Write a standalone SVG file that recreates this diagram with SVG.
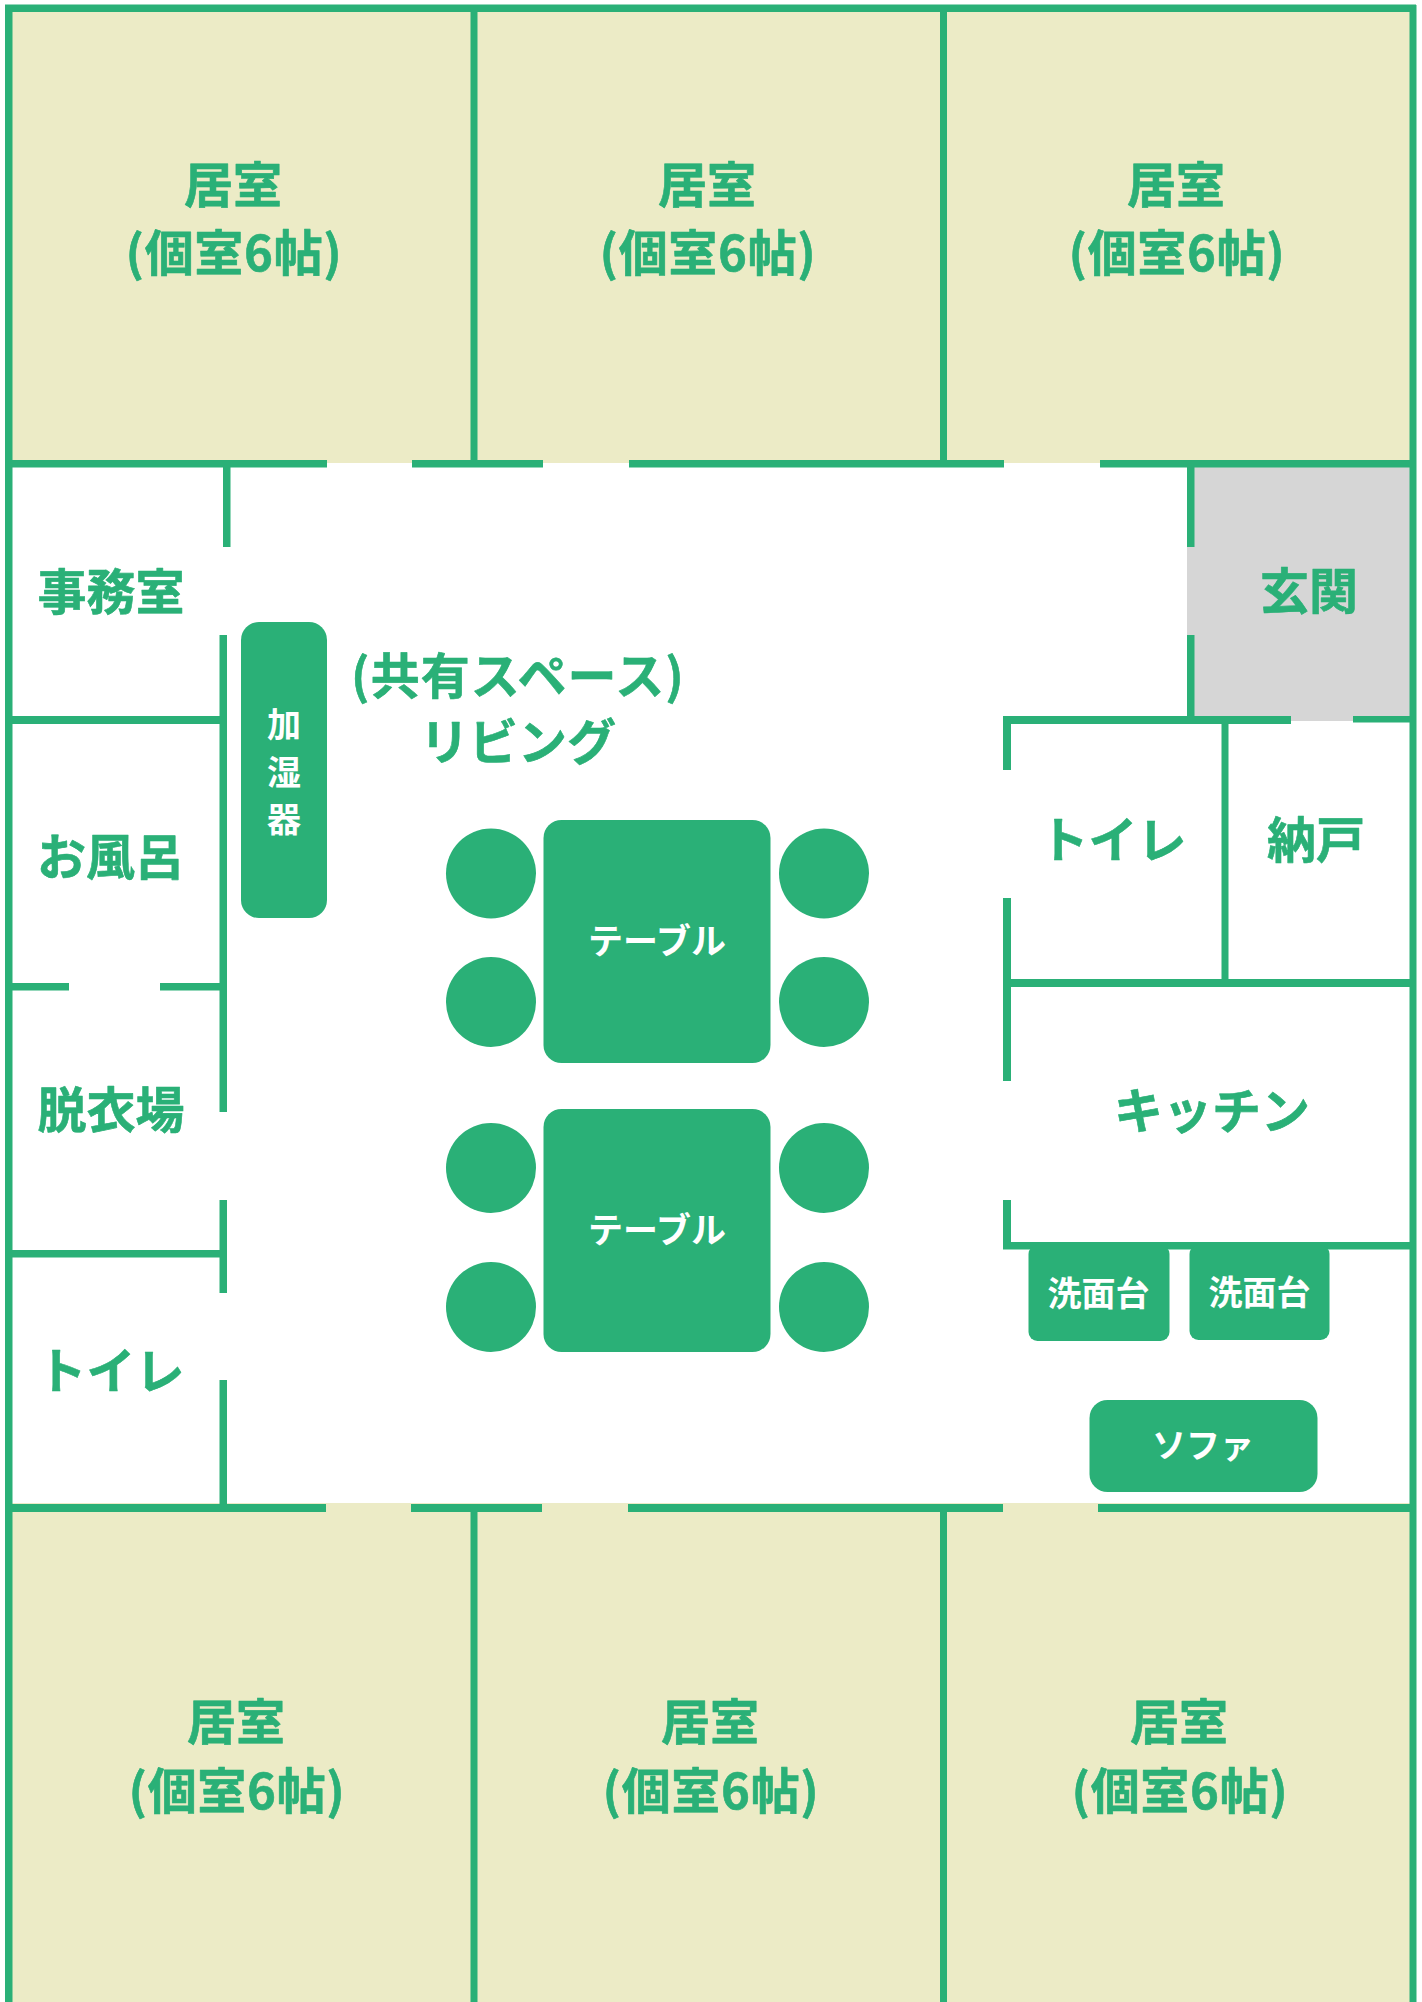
<svg xmlns="http://www.w3.org/2000/svg" width="1422" height="2002" viewBox="0 0 1422 2002">
<style>
.w{fill:#2AB077}
.b{fill:#ECEBC6}
.l{fill:#2AB077;font-family:"Noto Sans CJK JP","Noto Sans",sans-serif;font-weight:700;font-size:49px;text-anchor:middle;dominant-baseline:central;stroke:#2AB077;stroke-width:.6px;stroke-linejoin:round}
.p{letter-spacing:.7px}
.q{letter-spacing:1.1px}
.s{fill:#fff;font-family:"Noto Sans CJK JP","Noto Sans",sans-serif;font-weight:700;font-size:34px;text-anchor:middle;dominant-baseline:central}
.t{font-size:35px}
</style>
<rect width="1422" height="2002" fill="#fff"/>
<g id="floors">
<rect class="b" x="12" y="11" width="1398" height="452"/>
<rect class="b" x="12" y="1503" width="1398" height="499"/>
<rect x="1187" y="466" width="223" height="255" fill="#D6D6D6"/>
</g>
<g id="walls">
<rect class="w" x="5" y="4.500" width="1411" height="7.500"/>
<rect class="w" x="5" y="5" width="7.500" height="1997"/>
<rect class="w" x="1409.500" y="5" width="7" height="1997"/>
<rect class="w" x="470.500" y="5" width="7" height="456"/>
<rect class="w" x="940" y="5" width="7" height="456"/>
<rect class="w" x="5" y="460" width="322" height="7.500"/>
<rect class="w" x="412" y="460" width="131" height="7.500"/>
<rect class="w" x="629" y="460" width="375" height="7.500"/>
<rect class="w" x="1100" y="460" width="316" height="7.500"/>
<rect class="w" x="223" y="467" width="7.500" height="80"/>
<rect class="w" x="219.500" y="635" width="7.500" height="477"/>
<rect class="w" x="219.500" y="1200" width="7.500" height="93"/>
<rect class="w" x="219.500" y="1380" width="7.500" height="124"/>
<rect class="w" x="12" y="716" width="208" height="8"/>
<rect class="w" x="12" y="983" width="57" height="7.500"/>
<rect class="w" x="160" y="983" width="60" height="7.500"/>
<rect class="w" x="12" y="1250" width="208" height="7.500"/>
<rect class="w" x="5" y="1504" width="321" height="8"/>
<rect class="w" x="411" y="1504" width="131" height="8"/>
<rect class="w" x="628" y="1504" width="375" height="8"/>
<rect class="w" x="1098" y="1504" width="318" height="8"/>
<rect class="w" x="470.500" y="1504" width="7" height="498"/>
<rect class="w" x="940" y="1504" width="7" height="498"/>
<rect class="w" x="1187" y="467" width="7.500" height="80"/>
<rect class="w" x="1187" y="635" width="7.500" height="81"/>
<rect class="w" x="1003" y="716" width="288" height="8"/>
<rect class="w" x="1353" y="716" width="57" height="6.500"/>
<rect class="w" x="1003" y="716" width="8" height="54"/>
<rect class="w" x="1003" y="898" width="8" height="183"/>
<rect class="w" x="1003" y="1200" width="8" height="49"/>
<rect class="w" x="1221.500" y="724" width="7" height="255"/>
<rect class="w" x="1011" y="979" width="399" height="8"/>
<rect class="w" x="1003" y="1242" width="407" height="7.500"/>
</g>
<g id="furniture">
<g id="humidifier"><rect class="w" x="241" y="622" width="86" height="296" rx="18"/>
<text class="s" x="284" y="722">加</text><text class="s" x="284" y="770">湿</text><text class="s" x="284" y="817">器</text></g>
<g id="table1"><rect class="w" x="543.500" y="820" width="227" height="243" rx="18"/><text class="s t" x="657" y="938.500">テーブル</text></g>
<g id="table2"><rect class="w" x="543.500" y="1109" width="227" height="243" rx="18"/><text class="s t" x="657" y="1227.500">テーブル</text></g>
<g id="chairs">
<circle class="w" cx="491" cy="873.500" r="45"/><circle class="w" cx="824" cy="873.500" r="45"/>
<circle class="w" cx="491" cy="1002" r="45"/><circle class="w" cx="824" cy="1002" r="45"/>
<circle class="w" cx="491" cy="1168" r="45"/><circle class="w" cx="824" cy="1168" r="45"/>
<circle class="w" cx="491" cy="1307" r="45"/><circle class="w" cx="824" cy="1307" r="45"/>
</g>
<g id="basin1"><rect class="w" x="1028.500" y="1245" width="141" height="96" rx="9"/><text class="s" x="1098.500" y="1291.500">洗面台</text></g>
<g id="basin2"><rect class="w" x="1189.500" y="1245" width="140" height="95" rx="9"/><text class="s" x="1259.500" y="1290.500">洗面台</text></g>
<g id="sofa"><rect class="w" x="1089.500" y="1400" width="228" height="92" rx="18"/><text class="s" x="1203" y="1443.500">ソファ</text></g>
</g>
<g id="labels">
<g id="room1"><text class="l" x="233" y="181.500">居室</text><text class="l p" x="234" y="249">(個室6帖)</text></g>
<g id="room2"><text class="l" x="707" y="181.500">居室</text><text class="l p" x="708" y="249">(個室6帖)</text></g>
<g id="room3"><text class="l" x="1176" y="181.500">居室</text><text class="l p" x="1177" y="249">(個室6帖)</text></g>
<g id="room4"><text class="l" x="236" y="1718.500">居室</text><text class="l p" x="237" y="1787.500">(個室6帖)</text></g>
<g id="room5"><text class="l" x="710" y="1718.500">居室</text><text class="l p" x="711" y="1787.500">(個室6帖)</text></g>
<g id="room6"><text class="l" x="1179" y="1718.500">居室</text><text class="l p" x="1180" y="1787.500">(個室6帖)</text></g>
<text id="office" class="l" x="111" y="588">事務室</text>
<text id="bath" class="l" x="110.500" y="853.500">お風呂</text>
<text id="dressing" class="l" x="111" y="1106.500">脱衣場</text>
<text id="toilet1" class="l" x="111" y="1367.500">トイレ</text>
<text id="shared" class="l q" x="518" y="672.500">(共有スペース)</text>
<text id="living" class="l" x="518" y="738.500">リビング</text>
<text id="entrance" class="l" x="1309" y="587.500">玄関</text>
<text id="toilet2" class="l" x="1113" y="836.500">トイレ</text>
<text id="storage" class="l" x="1316" y="836.500">納戸</text>
<text id="kitchen" class="l" x="1212" y="1107">キッチン</text>
</g>
</svg>
